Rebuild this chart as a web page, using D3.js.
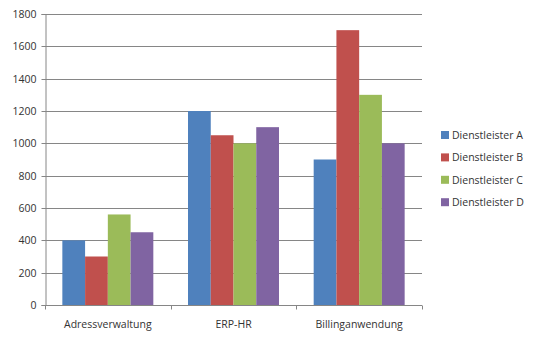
<!DOCTYPE html>
<html><head><meta charset="utf-8">
<script src="https://cdn.jsdelivr.net/npm/d3@7"></script>
<style>body{margin:0;background:#fff}svg{display:block}</style>
</head><body>
<script>
const categories = ["Adressverwaltung", "ERP-HR", "Billinganwendung"];
const seriesNames = ["Dienstleister A", "Dienstleister B", "Dienstleister C", "Dienstleister D"];
const valuesA = [400, 1200, 900];
const valuesB = [300, 1050, 1700];
const valuesC = [560, 1000, 1300];
const valuesD = [450, 1100, 1000];
const yTicks = [0, 200, 400, 600, 800, 1000, 1200, 1400, 1600, 1800];
const colors = ["#4F81BD", "#C0504D", "#9BBB59", "#8064A2"];
const series = [valuesA, valuesB, valuesC, valuesD];

const W = 538, H = 337;
const m = {left: 45, right: 116, top: 14, bottom: 32};
const font = "'Open Sans', sans-serif";
const svg = d3.select("body").append("svg").attr("width", W).attr("height", H);

const x0 = d3.scaleBand().domain(categories).range([m.left, W - m.right]).paddingInner(0.276).paddingOuter(0.138);
const x1 = d3.scaleBand().domain(seriesNames).range([0, x0.bandwidth()]);
const y = d3.scaleLinear().domain([0, 1800]).range([H - m.bottom, m.top]);

// gridlines
svg.append("g").selectAll("line").data(yTicks.filter(d => d > 0)).join("line")
  .attr("x1", m.left).attr("x2", W - m.right)
  .attr("y1", d => Math.round(y(d)) + 0.5).attr("y2", d => Math.round(y(d)) + 0.5)
  .attr("stroke", "#868686").attr("stroke-width", 1);

// bars
const g = svg.append("g");
categories.forEach((c, ci) => {
  series.forEach((s, si) => {
    g.append("rect")
      .attr("x", x0(c) + x1(seriesNames[si]))
      .attr("width", x1.bandwidth())
      .attr("y", y(s[ci]))
      .attr("height", y(0) - y(s[ci]))
      .attr("fill", colors[si]);
  });
});

// y axis
const yAxis = d3.axisLeft(y).tickValues(yTicks).tickFormat(d3.format("d")).tickSize(4).tickPadding(5);
const ya = svg.append("g").attr("transform", `translate(${m.left + 0.5},0)`).call(yAxis);
ya.select(".domain").attr("stroke", "#868686");
ya.selectAll(".tick line").attr("stroke", "#868686");
ya.selectAll(".tick text").attr("font-family", font).attr("font-size", 10.5).attr("fill", "#333");
ya.selectAll(".tick").attr("transform", d => `translate(0,${Math.round(y(d)) + 0.5})`);

// x axis
const xa = svg.append("g").attr("transform", `translate(0,${Math.round(y(0)) + 0.5})`);
xa.append("line").attr("x1", m.left).attr("x2", W - m.right).attr("stroke", "#868686");
const bounds = [0, 1, 2, 3].map(i => m.left + i * x0.step());
xa.selectAll(".tk").data(bounds).join("line").attr("class", "tk")
  .attr("x1", d => Math.round(d) + 0.5).attr("x2", d => Math.round(d) + 0.5)
  .attr("y1", 0).attr("y2", 4).attr("stroke", "#868686");
xa.selectAll("text").data(categories).join("text")
  .attr("x", d => x0(d) + x0.bandwidth() / 2).attr("y", 22)
  .attr("text-anchor", "middle").attr("font-family", font).attr("font-size", 10.5).attr("fill", "#333")
  .text(d => d);

// legend
const lg = svg.append("g").attr("transform", `translate(441,0)`);
seriesNames.forEach((n, i) => {
  const cy = 135 + i * 22.4;
  lg.append("rect").attr("x", 0).attr("y", cy - 4).attr("width", 8).attr("height", 8).attr("fill", colors[i]);
  lg.append("text").attr("x", 11).attr("y", cy).attr("dy", "0.36em")
    .attr("font-family", font).attr("font-size", 10.5).attr("fill", "#333").text(n);
});
</script>
</body></html>
